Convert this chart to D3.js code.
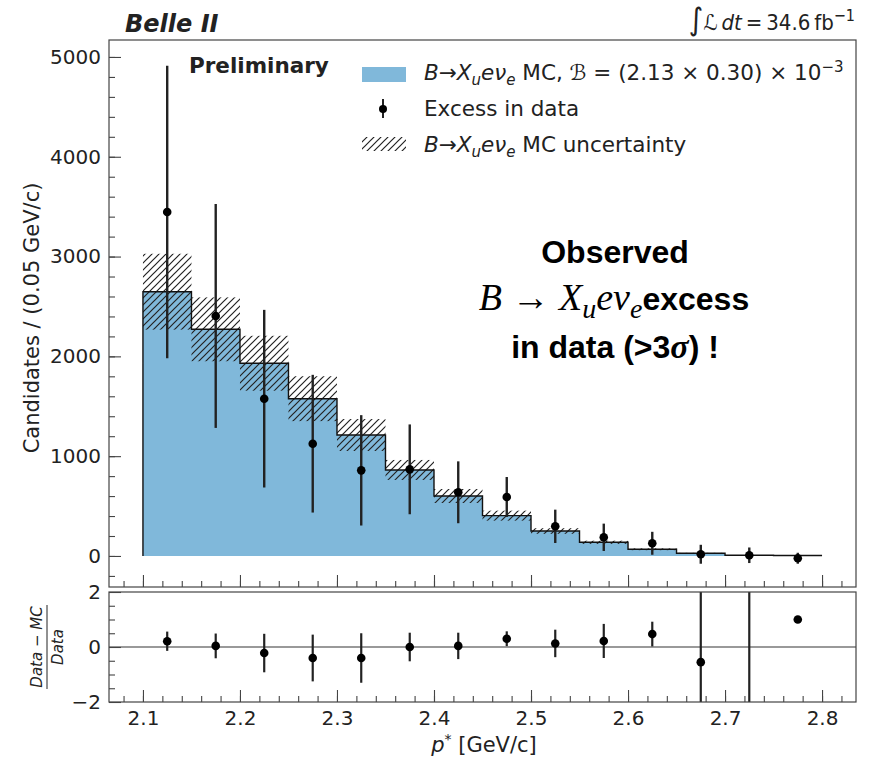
<!DOCTYPE html>
<html>
<head>
<meta charset="UTF-8">
<title>Belle II p* spectrum</title>
<script src="https://d3js.org/d3.v7.min.js"></script>
<style>
  body { margin: 0; background: #fff; }
  svg text { font-family: "DejaVu Sans", sans-serif; fill: #222; }
</style>
</head>
<body>
<div id="chart"></div>
<script>
// bins of p* (GeV/c), lower edges, width 0.05
const binLow = [2.10, 2.15, 2.20, 2.25, 2.30, 2.35, 2.40, 2.45, 2.50, 2.55, 2.60, 2.65, 2.70, 2.75];
const binWidth = 0.05;
// B -> Xu e nu MC expectation and its uncertainty
const mcCounts = [2648, 2271, 1931, 1576, 1212, 862, 601, 404, 250, 137, 67, 27, 7, 5];
const mcUnc    = [380, 320, 275, 225, 160, 100, 70, 50, 28, 16, 9, 4, 2, 1];
// excess in data
const dataCounts = [3447, 2405, 1576, 1125, 858, 868, 638, 591, 297, 187, 127, 17, 7, -23];
const dataErr    = [1465, 1122, 890, 690, 553, 450, 310, 200, 167, 137, 115, 95, 78, 55];
// (Data - MC) / Data
const ratioVals = [0.21, 0.04, -0.22, -0.40, -0.40, 0.00, 0.04, 0.30, 0.13, 0.22, 0.47, -0.55, -3.5, 1.0];
const ratioErr  = [0.35, 0.45, 0.70, 0.85, 0.90, 0.52, 0.48, 0.27, 0.50, 0.62, 0.45, 6, 10, 0];
// tick labels
const xTicks = [2.1, 2.2, 2.3, 2.4, 2.5, 2.6, 2.7, 2.8];
const yTicks = [0, 1000, 2000, 3000, 4000, 5000];
const rTicks = [-2, 0, 2];

const W = 871, H = 761;
const L = 109, R = 856;
const top1 = 40, bot1 = 587;
const top2 = 592, bot2 = 702;
const blue = "#80b8da";
const ink = "#222";

const svg = d3.select("#chart").append("svg").attr("width", W).attr("height", H);

const x = d3.scaleLinear().domain([2.065, 2.835]).range([L, R]);
const y = d3.scaleLinear().domain([-311, 5170]).range([bot1, top1]);
const yr = d3.scaleLinear().domain([-2, 2]).range([bot2, top2]);

const bins = binLow.map((lo, i) => ({
  lo: lo, hi: lo + binWidth, c: lo + binWidth / 2,
  mc: mcCounts[i], unc: mcUnc[i],
  d: dataCounts[i], de: dataErr[i],
  r: ratioVals[i], re: ratioErr[i]
}));

// hatch pattern
const defs = svg.append("defs");
const pat = defs.append("pattern").attr("id", "hatch").attr("patternUnits", "userSpaceOnUse")
  .attr("width", 7).attr("height", 7);
pat.append("path").attr("d", "M-1,1 l2,-2 M0,7 l7,-7 M6,8 l2,-2")
  .attr("stroke", ink).attr("stroke-width", 1.2);
defs.append("clipPath").attr("id", "clip1").append("rect")
  .attr("x", L).attr("y", top1).attr("width", R - L).attr("height", bot1 - top1);
defs.append("clipPath").attr("id", "clip2").append("rect")
  .attr("x", L).attr("y", top2).attr("width", R - L).attr("height", bot2 - top2);

// ---------- main panel ----------
const g1 = svg.append("g").attr("clip-path", "url(#clip1)");

// filled MC histogram
const area = d3.area().curve(d3.curveStepAfter).x(d => x(d[0])).y0(y(0)).y1(d => y(d[1]));
const stepPts = bins.map(b => [b.lo, b.mc]).concat([[2.8, bins[bins.length - 1].mc]]);
g1.append("path").attr("d", area(stepPts)).attr("fill", blue);

// MC uncertainty hatch
g1.selectAll("rect.unc").data(bins).enter().append("rect").attr("class", "unc")
  .attr("x", d => x(d.lo)).attr("width", d => x(d.hi) - x(d.lo))
  .attr("y", d => y(d.mc + d.unc)).attr("height", d => y(d.mc - d.unc) - y(d.mc + d.unc))
  .attr("fill", "url(#hatch)");

// step outline
const line = d3.line().curve(d3.curveStepAfter).x(d => x(d[0])).y(d => y(d[1]));
g1.append("path").attr("d", line([[2.1, 0]].concat(stepPts)))
  .attr("fill", "none").attr("stroke", "#111").attr("stroke-width", 1.4);

// data points
g1.selectAll("line.err").data(bins).enter().append("line").attr("class", "err")
  .attr("x1", d => x(d.c)).attr("x2", d => x(d.c))
  .attr("y1", d => y(d.d - d.de)).attr("y2", d => y(d.d + d.de))
  .attr("stroke", ink).attr("stroke-width", 2.4);
g1.selectAll("circle.pt").data(bins).enter().append("circle").attr("class", "pt")
  .attr("cx", d => x(d.c)).attr("cy", d => y(d.d)).attr("r", 4.3).attr("fill", "#000");

// axes of main panel
const minorX = d3.range(2.08, 2.83, 0.02).map(v => +v.toFixed(2));
const minorY = d3.range(-200, 5101, 200);
svg.append("g").attr("transform", `translate(0,${bot1})`)
  .call(d3.axisBottom(x).tickValues(minorX).tickSize(-6).tickFormat(""));
svg.append("g").attr("transform", `translate(0,${bot1})`)
  .call(d3.axisBottom(x).tickValues(xTicks).tickSize(-12).tickFormat(""));
svg.append("g").attr("transform", `translate(${L},0)`)
  .call(d3.axisLeft(y).tickValues(minorY).tickSize(-6).tickFormat(""));
svg.append("g").attr("class", "ylab").attr("transform", `translate(${L},0)`)
  .call(d3.axisLeft(y).tickValues(yTicks).tickSize(-12).tickPadding(8).tickFormat(d3.format("d")));

// ---------- ratio panel ----------
const g2 = svg.append("g").attr("clip-path", "url(#clip2)");
g2.append("line").attr("x1", L).attr("x2", R).attr("y1", yr(0)).attr("y2", yr(0))
  .attr("stroke", "#999").attr("stroke-width", 2);
g2.selectAll("line.rerr").data(bins.filter(b => b.re > 0)).enter().append("line")
  .attr("x1", d => x(d.c)).attr("x2", d => x(d.c))
  .attr("y1", d => yr(d.r - d.re)).attr("y2", d => yr(d.r + d.re))
  .attr("stroke", ink).attr("stroke-width", 2.2);
g2.selectAll("circle.rpt").data(bins).enter().append("circle")
  .attr("cx", d => x(d.c)).attr("cy", d => yr(d.r)).attr("r", 4.3).attr("fill", "#000");

svg.append("g").attr("transform", `translate(0,${bot2})`)
  .call(d3.axisBottom(x).tickValues(minorX).tickSize(-6).tickFormat(""));
svg.append("g").attr("class", "xlab").attr("transform", `translate(0,${bot2})`)
  .call(d3.axisBottom(x).tickValues(xTicks).tickSize(-12).tickPadding(9).tickFormat(d3.format(".1f")));
svg.append("g").attr("transform", `translate(${L},0)`)
  .call(d3.axisLeft(yr).tickValues([-1.5, -1, -0.5, 0.5, 1, 1.5]).tickSize(-6).tickFormat(""));
svg.append("g").attr("class", "ylab").attr("transform", `translate(${L},0)`)
  .call(d3.axisLeft(yr).tickValues(rTicks).tickSize(-12).tickPadding(8)
    .tickFormat(d => d < 0 ? "\u2212" + Math.abs(d) : d));

svg.selectAll(".domain").remove();
svg.selectAll(".tick line").attr("stroke", "#444").attr("stroke-width", 1.1);
svg.selectAll(".tick text").attr("font-size", 20).attr("fill", ink)
  .style("font-family", "DejaVu Sans");

// frames
[[top1, bot1], [top2, bot2]].forEach(([t, b]) => {
  svg.append("rect").attr("x", L).attr("y", t).attr("width", R - L).attr("height", b - t)
    .attr("fill", "none").attr("stroke", "#444").attr("stroke-width", 1.2);
});

// ---------- texts ----------
function rich(sel, parts) {
  parts.forEach(p => {
    const t = sel.append("tspan").text(p.t);
    if (p.it) t.attr("font-style", "italic");
    if (p.b) t.attr("font-weight", "bold");
    if (p.fs) t.attr("font-size", p.fs);
    if (p.ff) t.style("font-family", p.ff);
    if (p.dy) t.attr("dy", p.dy);
  });
  return sel;
}

// axis titles
svg.append("text").attr("transform", `translate(39,318) rotate(-90)`)
  .attr("text-anchor", "middle").attr("font-size", 21).text("Candidates / (0.05 GeV/c)");

const fr = svg.append("g").attr("transform", `translate(47,${(top2 + bot2) / 2}) rotate(-90)`);
fr.append("text").attr("y", -5).attr("text-anchor", "middle").attr("font-size", 15)
  .attr("font-style", "italic").text("Data \u2212 MC");
fr.append("line").attr("x1", -42).attr("x2", 42).attr("stroke", ink).attr("stroke-width", 1);
fr.append("text").attr("y", 16).attr("text-anchor", "middle").attr("font-size", 15)
  .attr("font-style", "italic").text("Data");

rich(svg.append("text").attr("x", 484).attr("y", 752).attr("text-anchor", "middle")
  .attr("font-size", 21), [
  { t: "p", it: true }, { t: "*", fs: 14, dy: -8 }, { t: " [GeV/c]", dy: 8 }
]);

// header
svg.append("text").attr("x", 125).attr("y", 32).attr("font-size", 24)
  .attr("font-weight", "bold").attr("font-style", "italic").text("Belle II");
rich(svg.append("text").attr("x", R - 1).attr("y", 30).attr("text-anchor", "end").attr("font-size", 22)
  .style("font-family", "DejaVu Sans Condensed, DejaVu Sans"), [
  { t: "\u222B", fs: 31 }, { t: "\u2112", it: true }, { t: "\u2009" }, { t: "dt", it: true },
  { t: "\u2009=\u200934.6\u2009fb" }, { t: "\u22121", fs: 16, dy: -9 }
]);

svg.append("text").attr("x", 189).attr("y", 73).attr("font-size", 21.5)
  .attr("font-weight", "bold").text("Preliminary");

// legend
const lg = svg.append("g");
lg.append("rect").attr("x", 362).attr("y", 67).attr("width", 44).attr("height", 15).attr("fill", blue);
lg.append("line").attr("x1", 383).attr("x2", 383).attr("y1", 99).attr("y2", 118)
  .attr("stroke", ink).attr("stroke-width", 2);
lg.append("circle").attr("cx", 383).attr("cy", 109).attr("r", 4).attr("fill", "#000");
lg.append("rect").attr("x", 362).attr("y", 137).attr("width", 44).attr("height", 14).attr("fill", "url(#hatch)");

const decay = [
  { t: "B", it: true }, { t: "\u2192" }, { t: "X", it: true }, { t: "u", it: true, fs: 15, dy: 5 },
  { t: "e\u03BD", it: true, dy: -5 }, { t: "e", it: true, fs: 15, dy: 5 }
];
rich(lg.append("text").attr("x", 424).attr("y", 80).attr("font-size", 21.5),
  decay.concat([{ t: " MC, \u212C = (2.13 \u00D7 0.30) \u00D7 10", dy: -5 }, { t: "\u22123", fs: 15, dy: -8 }]));
lg.append("text").attr("x", 424).attr("y", 116).attr("font-size", 21.5).text("Excess in data");
rich(lg.append("text").attr("x", 424).attr("y", 152).attr("font-size", 21.5),
  decay.concat([{ t: " MC uncertainty", dy: -5 }]));

// annotation
const sans = "Liberation Sans, Arial, sans-serif";
const serif = "Liberation Serif, Times New Roman, serif";
svg.append("text").attr("x", 615).attr("y", 263).attr("text-anchor", "middle")
  .attr("font-size", 32).attr("font-weight", "bold").style("font-family", sans).style("fill", "#000")
  .text("Observed");
rich(svg.append("text").attr("x", 614).attr("y", 310).attr("text-anchor", "middle")
  .attr("font-size", 38).style("font-family", serif).style("fill", "#000"), [
  { t: "B", it: true }, { t: " \u2192 " }, { t: "X", it: true }, { t: "u", it: true, fs: 28, dy: 8 },
  { t: "e\u03BD", it: true, dy: -8 }, { t: "e", it: true, fs: 28, dy: 8 },
  { t: "excess", b: true, fs: 32, ff: sans, dy: -8 }
]);
rich(svg.append("text").attr("x", 615).attr("y", 358).attr("text-anchor", "middle")
  .attr("font-size", 32).attr("font-weight", "bold").style("font-family", sans).style("fill", "#000"), [
  { t: "in data (>3" }, { t: "\u03C3", it: true, ff: serif, fs: 34 }, { t: ") !" }
]);
</script>
</body>
</html>
